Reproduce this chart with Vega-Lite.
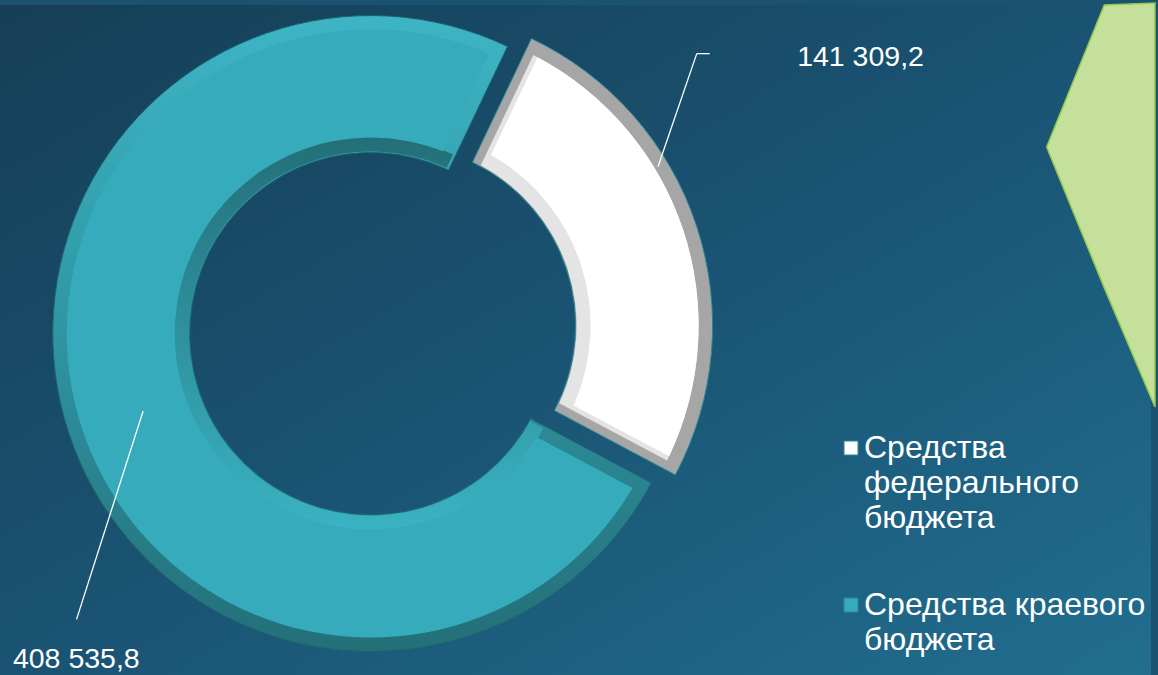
{
  "$schema": "https://vega.github.io/schema/vega-lite/v6.json",
  "width": 1158,
  "height": 675,
  "padding": 0,
  "autosize": {"type": "fit", "contains": "padding"},
  "background": "#1a5270",
  "datasets": {
    "budget": [
      {"source": "Средства федерального бюджета", "amount": 141309.2},
      {"source": "Средства краевого бюджета", "amount": 408535.8}
    ],
    "chevron": [
      {"x": 1053, "y": 143, "y2": 143},
      {"x": 1111, "y": 0, "y2": 285},
      {"x": 1162, "y": -2, "y2": 405}
    ]
  },
  "layer": [
    {
      "data": {"values": [{}]},
      "mark": {"type": "rect", "fill": {"gradient": "linear", "x1": 0, "y1": 0, "x2": 1, "y2": 1, "stops": [{"offset": 0, "color": "#153f56"}, {"offset": 0.5, "color": "#1a5373"}, {"offset": 1, "color": "#216e8f"}]}},
      "encoding": {
        "x": {"datum": 0, "type": "quantitative", "scale": {"domain": [0, 1158], "nice": false, "zero": false}},
        "x2": {"datum": 1158},
        "y": {"datum": 0, "type": "quantitative", "scale": {"domain": [0, 675], "nice": false, "zero": false, "reverse": true}},
        "y2": {"datum": 675}
      }
    },
    {
      "data": {"name": "chevron"},
      "mark": {"type": "area", "fill": "#c5e09b", "stroke": "#93c94a", "strokeWidth": 1.5, "fillOpacity": 1},
      "encoding": {
        "x": {"field": "x", "type": "quantitative"},
        "y": {"field": "y", "type": "quantitative"},
        "y2": {"field": "y2"}
      }
    },
    {
      "data": {"name": "budget"},
      "transform": [
        {"stack": "amount", "groupby": [], "sort": [{"field": "source", "order": "ascending"}], "as": ["t0", "t1"]},
        {"filter": "datum.source == 'Средства краевого бюджета'"}
      ],
      "layer": [
        {
          "mark": {"type": "arc", "radius": 318, "radius2": 181, "stroke": "#1c646d", "strokeWidth": 1,
            "fill": {"gradient": "linear", "x1": 0, "y1": 0, "x2": 0, "y2": 1, "stops": [{"offset": 0, "color": "#3db5c5"}, {"offset": 0.5, "color": "#2f95a2"}, {"offset": 1, "color": "#236f78"}]}}
        },
        {
          "mark": {"type": "arc", "radius": 197, "radius2": 182, "padAngle": 0.02,
            "fill": {"gradient": "linear", "x1": 0, "y1": 0, "x2": 0, "y2": 1, "stops": [{"offset": 0, "color": "#236f78"}, {"offset": 1, "color": "#3ab3c3"}]}}
        },
        {
          "mark": {"type": "arc", "radius": 304, "radius2": 196, "padAngle": 0.075}
        }
      ],
      "encoding": {
        "x": {"datum": 373, "type": "quantitative"},
        "y": {"datum": 331, "type": "quantitative"},
        "theta": {"field": "t0", "type": "quantitative", "scale": {"domain": [0, 549845], "range": [2.0595, 8.3427], "zero": true, "nice": false}},
        "theta2": {"field": "t1"},
        "color": {
          "field": "source", "type": "nominal",
          "scale": {"domain": ["Средства федерального бюджета", "Средства краевого бюджета"], "range": ["#ffffff", "#35abbb"]},
          "legend": {
            "orient": "none",
            "legendX": 835,
            "legendY": 427,
            "padding": 0,
            "title": null,
            "symbolType": "square",
            "symbolSize": 196,
            "symbolStrokeColor": "#3a3a3a",
            "symbolStrokeWidth": 1,
            "symbolOpacity": 1,
            "labelFont": "Liberation Sans",
            "labelFontSize": 32,
            "labelColor": "#ffffff",
            "labelLimit": 400,
            "labelOffset": -3,
            "rowPadding": 55,
            "labelExpr": "datum.label == 'Средства федерального бюджета' ? ['Средства', 'федерального', 'бюджета'] : ['Средства краевого', 'бюджета']"
          }
        }
      }
    },
    {
      "data": {"name": "budget"},
      "transform": [
        {"stack": "amount", "groupby": [], "sort": [{"field": "source", "order": "ascending"}], "as": ["t0", "t1"]},
        {"filter": "datum.source == 'Средства федерального бюджета'"}
      ],
      "layer": [
        {
          "mark": {"type": "arc", "radius": 318, "radius2": 181, "fill": "#a6a6a6", "stroke": "#2a8893", "strokeWidth": 1}
        },
        {
          "mark": {"type": "arc", "radius": 304, "radius2": 182, "padAngle": 0.05, "fill": "#e4e4e4"}
        },
        {
          "mark": {"type": "arc", "radius": 304, "radius2": 196, "padAngle": 0.075}
        }
      ],
      "encoding": {
        "x": {"datum": 397, "type": "quantitative"},
        "y": {"datum": 323, "type": "quantitative"},
        "theta": {"field": "t0", "type": "quantitative", "scale": {"domain": [0, 549845], "range": [2.0595, 8.3427], "zero": true, "nice": false}},
        "theta2": {"field": "t1"},
        "color": {"field": "source", "type": "nominal"}
      }
    },
    {
      "data": {"values": [{}]},
      "layer": [
        {
          "mark": {"type": "rule", "color": "#ffffff", "strokeWidth": 1.3},
          "encoding": {"x": {"datum": 662, "type": "quantitative"}, "y": {"datum": 163, "type": "quantitative"}, "x2": {"datum": 701}, "y2": {"datum": 49}}
        },
        {
          "mark": {"type": "rule", "color": "#ffffff", "strokeWidth": 1.3},
          "encoding": {"x": {"datum": 701, "type": "quantitative"}, "y": {"datum": 49, "type": "quantitative"}, "x2": {"datum": 714}, "y2": {"datum": 49}}
        },
        {
          "mark": {"type": "rule", "color": "#ffffff", "strokeWidth": 1.3},
          "encoding": {"x": {"datum": 144, "type": "quantitative"}, "y": {"datum": 409, "type": "quantitative"}, "x2": {"datum": 77}, "y2": {"datum": 619}}
        }
      ]
    },
    {
      "data": {"name": "budget"},
      "transform": [{"filter": "datum.source == 'Средства федерального бюджета'"}],
      "mark": {"type": "text", "align": "left", "baseline": "alphabetic", "font": "Liberation Sans", "fontSize": 28.5, "color": "#ffffff"},
      "encoding": {
        "x": {"datum": 802, "type": "quantitative"},
        "y": {"datum": 61, "type": "quantitative"},
        "text": {"field": "amount", "type": "quantitative", "format": ",.1f"}
      }
    },
    {
      "data": {"name": "budget"},
      "transform": [{"filter": "datum.source == 'Средства краевого бюджета'"}],
      "mark": {"type": "text", "align": "left", "baseline": "alphabetic", "font": "Liberation Sans", "fontSize": 28.5, "color": "#ffffff"},
      "encoding": {
        "x": {"datum": 13, "type": "quantitative"},
        "y": {"datum": 668, "type": "quantitative"},
        "text": {"field": "amount", "type": "quantitative", "format": ",.1f"}
      }
    }
  ],
  "config": {
    "view": {"stroke": null},
    "axis": {"disable": true},
    "locale": {"number": {"decimal": ",", "thousands": " ", "grouping": [3], "currency": ["", " ₽"]}},
    "style": {"guide-label": {"lineHeight": 35}}
  }
}
